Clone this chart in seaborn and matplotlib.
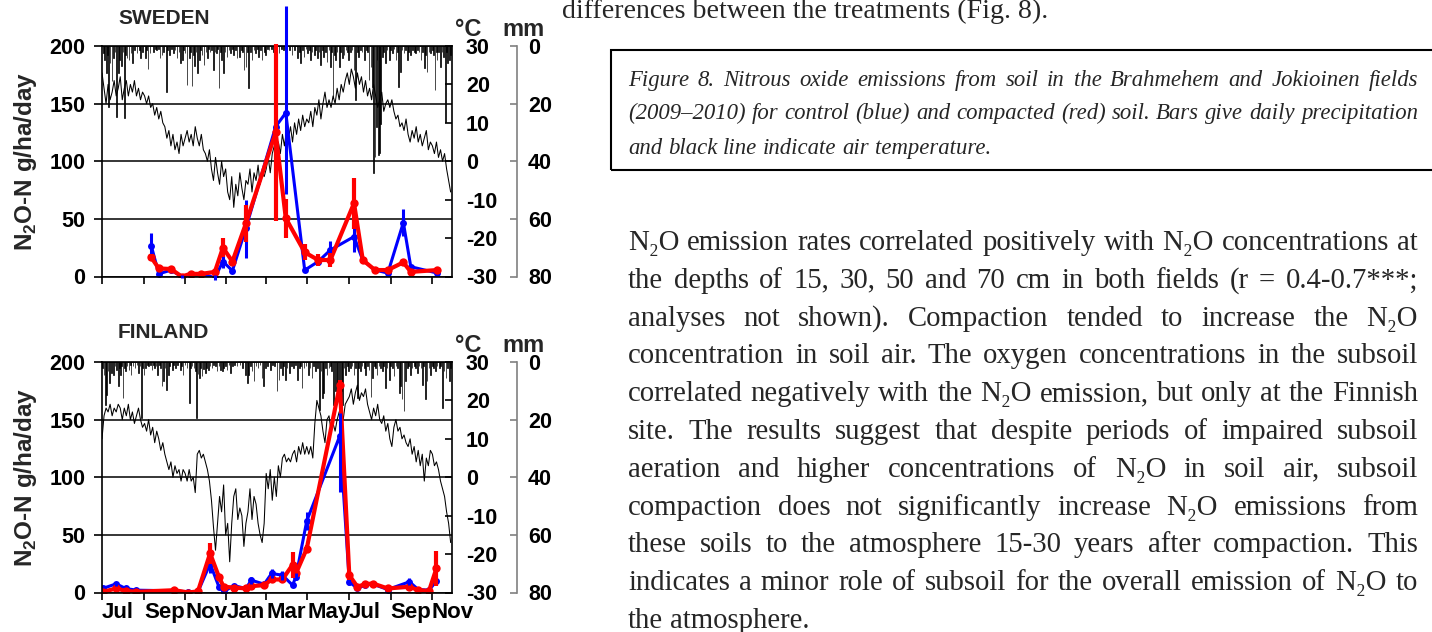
import numpy as np
import pandas as pd
import matplotlib
matplotlib.use("Agg")
import matplotlib.pyplot as plt
import seaborn as sns
from matplotlib.patches import Rectangle

sns.set_theme(style="ticks")
plt.rcParams["font.family"] = ["Liberation Sans", "DejaVu Sans"]
plt.rcParams["mathtext.fontset"] = "custom"
plt.rcParams["mathtext.rm"] = "Liberation Sans"
plt.rcParams["mathtext.bf"] = "Liberation Sans:bold"

# ---------------------------------------------------------------- data
START = "2009-07-01"
END = "2010-12-01"
month_ticks = ["2009-07-01", "2009-09-01", "2009-11-01", "2010-01-01", "2010-03-01",
               "2010-05-01", "2010-07-01", "2010-09-01", "2010-11-01"]
month_labels = ["Jul", "Sep", "Nov", "Jan", "Mar", "May", "Jul", "Sep", "Nov"]

# Sweden (Brahmehem) N2O-N, g/ha/day
swe_dates = ["2009-09-12", "2009-09-23", "2009-10-11", "2009-10-27", "2009-11-09", "2009-11-25",
             "2009-12-15", "2009-12-27", "2010-01-10", "2010-01-30", "2010-03-15", "2010-03-30",
             "2010-04-27", "2010-05-17", "2010-06-04", "2010-07-09", "2010-07-22", "2010-08-09",
             "2010-08-28", "2010-09-20", "2010-10-01", "2010-11-09"]
swe_control = [26.5, 2.3, 5.5, 0.0, 1.5, 2.3, -1.0, 13, 5, 42, 130, 142,
               5.5, 13, 23, 34.6, 14, 5.6, 3, 46.8, 8.5, 3]
swe_control_err_lo = [11, 0, 0, 1, 0, 0, 2, 6, 2, 26, 0, 70, 0, 0, 8, 13, 0, 0, 0, 12, 0, 0]
swe_control_err_hi = [11, 0, 0, 1, 0, 0, 2, 6, 2, 24, 0, 93, 0, 0, 8, 9, 0, 0, 0, 12, 0, 0]
swe_compacted = [16.5, 7, 6.5, 0, 2.3, 2.3, 4, 25, 13, 46, 125, 50.6,
                 21, 14.3, 14.3, 63.6, 14.3, 5.6, 5.6, 12.3, 4, 5.6]
swe_compacted_err = [3, 0, 0, 0, 0, 0, 0, 8, 3, 16, 77, 17, 7, 5, 6, 22, 0, 0, 0, 3, 0, 2]

# Finland (Jokioinen) N2O-N, g/ha/day
fin_dates = ["2009-07-02", "2009-07-22", "2009-08-05", "2009-08-21", "2009-10-16", "2009-11-06",
             "2009-11-20", "2009-12-08", "2009-12-21", "2009-12-28", "2010-01-12", "2010-01-30",
             "2010-02-07", "2010-02-26", "2010-03-09", "2010-03-25", "2010-04-09", "2010-04-14",
             "2010-04-30", "2010-06-18", "2010-07-02", "2010-07-14", "2010-07-25", "2010-08-06",
             "2010-08-28", "2010-09-29", "2010-10-12", "2010-10-28", "2010-11-08"]
fin_control = [3.5, 7.5, 3.5, 2, 1.5, 0.5, 0.6, 25, 5, 0.6, 6, 3.5, 10.7, 7.2, 16.5, 15, 6.4,
               13.6, 62, 136, 9.3, 3.5, 6.4, 7.2, 2.6, 9.3, 2.6, 2, 10]
fin_control_err_lo = [0, 2, 0, 0, 0, 0, 0, 8, 0, 0, 0, 0, 3, 0, 4, 4, 0, 3, 8, 49,
                      3, 0, 0, 0, 0, 3, 0, 0, 3]
fin_control_err_hi = [0, 2, 0, 0, 0, 0, 0, 17, 0, 0, 0, 0, 3, 0, 4, 4, 0, 3, 8, 20,
                      3, 0, 0, 0, 0, 3, 0, 0, 3]
fin_compacted = [0.5, 3.5, 1.4, 0.6, 2, 0, 1, 34, 13.6, 5, 4.3, 3.5, 5.5, 6.4, 11.3, 11.3, 24,
                 16.5, 38, 180, 15, 5, 7.2, 7.8, 3.5, 5, 2, 1.4, 21]
fin_compacted_err = [0, 0, 0, 0, 0, 0, 0, 9, 0, 0, 0, 0, 0, 0, 0, 0, 11, 0, 3, 4,
                     4, 0, 0, 0, 0, 0, 0, 0, 15]

# Air temperature (degC), read every 3rd day from 1 Jul 2009
swe_temp = [23, 19, 15, 20, 16, 18, 21, 17, 19, 22, 16,
            19, 21, 17, 20, 18, 21, 17, 19, 16, 18,
            17, 15, 17, 14, 15, 12, 14, 11, 13, 10,
            9, 6, 8, 4, 7, 3, 5, 2, 7, 4,
            6, 8, 5, 7, 4, 9, 6, 4, 7, 3,
            2, 0, 3, -2, -5, 1, -3, -6, 0, -4,
            -2, -8, -10, -4, -12, -6, -9, -3, -7, -10, -5,
            -6, -2, -8, -3, -5, -1, -6, -3, -4,
            -2, 1, -3, 2, 4, 0, 5, 2, 7, 4, 8,
            6, 9, 5, 10, 7, 11, 8, 12, 9, 11,
            10, 13, 9, 14, 12, 16, 11, 15, 18, 14,
            16, 14, 17, 15, 19, 16, 20, 18, 21, 23,
            20, 24, 22, 19, 23, 20, 22, 18, 21, 17,
            19, 16, 20, 17, 14, 16, 18, 13, 15, 16,
            14, 16, 13, 11, 12, 9, 10, 8, 11, 7, 5,
            8, 6, 9, 5, 7, 4, 6, 8, 3, 5,
            4, 2, 5, 1, 3, 0, 2, -2, -5, -8]
fin_temp = [10, 16, 18, 17, 19, 16, 18, 17, 19, 18, 15,
            18, 16, 19, 15, 17, 14, 16, 18, 15, 13,
            14, 12, 15, 11, 13, 9, 12, 10, 7, 9,
            6, 4, 2, 4, 0, 3, 1, 2, -1, 2,
            1, -1, 2, -1, 0, -4, 6, 7, 5, 6,
            4, 2, -1, -6, -13, -19, -12, -5, -9, -2,
            -15, -12, -22, -12, -5, -3, -11, -8, -10, -18, -12,
            -9, -3, -11, -5, -7, -12, -15, -17, -12,
            1, -3, 2, -6, 0, -5, 3, 0, 5, 6, 4,
            5, 4, 6, 7, 4, 8, 6, 9, 6, 8,
            6, 8, 5, 14, 20, 18, 16, 12, 9, 15,
            16, 12, 14, 12, 15, 17, 18, 15, 19, 20,
            21, 23, 19, 22, 24, 20, 22, 21, 23, 19,
            17, 15, 18, 16, 19, 15, 14, 16, 12, 14,
            10, 8, 13, 15, 12, 13, 10, 11, 9, 8, 10,
            6, 8, 4, 7, 3, 6, -1, 5, 3, 7,
            6, 3, 4, 2, -1, -3, -5, -9, -12, -17]

# Daily precipitation (mm); day = days since 1 Jul 2009
swe_rain_day = [2, 4, 7, 8, 10, 12, 15, 17, 19, 21, 24, 26, 29, 31, 33, 35, 37, 40, 43, 45, 48, 52,
                55, 57, 60, 64, 66, 68, 71, 76, 79, 81, 84, 86, 89, 91, 95, 97, 100, 103, 106,
                108, 111, 114, 116, 119, 121, 123, 126, 129, 131, 133, 135, 137, 139, 141, 144,
                146, 148, 151, 154, 156, 158, 160, 162, 165, 167, 169, 171, 173, 175, 177, 180,
                182, 185, 188, 190, 193, 195, 198, 200, 203, 206, 208, 210, 213, 215, 217, 220,
                222, 225, 227, 230, 232, 235, 237, 240, 242, 245, 247, 251, 254, 258, 262, 266,
                269, 273, 277, 281, 285, 289, 292, 294, 297, 299, 302, 304, 307, 309, 311, 314,
                316, 319, 321, 323, 326, 328, 331, 333, 336, 338, 340, 342, 344, 346, 348, 351,
                353, 356, 358, 361, 363, 365, 368, 370, 373, 375, 378, 380, 383, 385, 388, 391,
                393, 395, 398, 400, 402, 404, 406, 407, 409, 411, 412, 415, 417, 420, 422, 425,
                427, 430, 432, 435, 437, 439, 442, 444, 447, 449, 452, 454, 457, 460, 462, 464,
                467, 469, 472, 474, 477, 479, 481, 484, 486, 489, 491, 493, 495, 496, 498, 501,
                503, 505, 508, 510, 511, 514, 516]
swe_rain_mm = [2.5, 5, 9.5, 3, 21, 6, 12, 4, 2, 24.5, 9.5, 5, 7, 2, 25, 3, 4, 5, 2.5, 6, 1.5, 2.5,
               1.5, 4, 2, 4, 1.5, 8, 2.5, 2, 1, 1.5, 1, 4, 3, 2, 16, 1.5, 3, 1, 2.5,
               1.5, 4, 2, 6, 5, 1.5, 2.5, 13.5, 4, 2, 14, 3, 7, 2, 9.5, 5,
               1.5, 3, 6.5, 2, 4, 1, 2, 1.5, 8.3, 2, 2.5, 1, 14.7, 2, 5, 9.5,
               2, 3.7, 1.5, 2.5, 1, 3, 1.5, 4.3, 3.7, 1.5, 2, 8.3, 7.2, 2, 14.7, 2,
               4.9, 1.5, 2.5, 1, 3.7, 1.5, 4.9, 2, 3.1, 1, 1.4, 1, 2, 1, 2.5, 1,
               1.4, 1, 1.5, 3.1, 1.5, 4.3, 2, 6, 1.5, 3.7, 1, 2.5, 1.5, 4.9, 2, 3.1,
               1.5, 4.3, 2, 6.6, 1.5, 3.7, 2, 5.4, 1.5, 7.2, 2, 18.2, 3, 4.9, 2, 7.2,
               2, 4.3, 3, 1.5, 2, 4.9, 2, 1.5, 8.3, 18.8, 2, 3.7, 1.5, 2, 4.9, 1.5,
               2, 11.8, 7.2, 14.1, 44.2, 38.4, 28, 5, 37.8, 37.3, 26.9, 3.7, 2, 6, 1.5, 4.9,
               1.5, 2.5, 1, 4.9, 2, 14.1, 8.9, 1.5, 2.5, 1.5, 4.9, 2, 3.1, 1.5, 2, 2.5,
               1.5, 2, 4.9, 2, 7.8, 3, 8.9, 2, 2.5, 1.5, 3, 15.3, 2, 4.9, 2, 7.2,
               2, 3.7, 26.3, 2, 6, 4.9, 3.1]
fin_rain_day = [1, 3, 5, 7, 9, 11, 14, 17, 19, 21, 24, 26, 27, 29, 31, 33, 35, 37, 40, 42, 43, 46,
                49, 52, 54, 56, 58, 60, 62, 64, 67, 69, 72, 74, 76, 78, 80, 82, 85, 87, 89, 91,
                93, 95, 98, 100, 104, 106, 109, 112, 116, 118, 120, 123, 126, 129, 131, 133, 136,
                138, 140, 142, 144, 146, 148, 150, 153, 155, 158, 160, 163, 165, 168, 170, 173,
                175, 178, 180, 183, 185, 188, 190, 193, 196, 200, 204, 208, 212, 215, 217, 220,
                222, 225, 228, 231, 234, 237, 239, 242, 245, 249, 252, 255, 259, 262, 264, 267,
                269, 272, 274, 277, 280, 283, 286, 289, 292, 294, 296, 299, 302, 306, 308, 311,
                313, 316, 319, 322, 324, 326, 328, 331, 333, 336, 338, 340, 343, 346, 348, 349,
                351, 354, 356, 358, 360, 363, 365, 368, 370, 373, 375, 378, 380, 383, 385, 388,
                390, 393, 395, 398, 400, 403, 405, 407, 410, 412, 415, 417, 420, 422, 425, 427,
                430, 432, 435, 437, 440, 442, 444, 447, 449, 452, 454, 457, 459, 462, 464, 467,
                469, 472, 474, 476, 479, 481, 484, 486, 489, 491, 494, 496, 499, 501, 504, 506,
                509, 511, 514, 516]
fin_rain_mm = [2, 4.4, 15, 11.3, 3, 7.3, 3.8, 4.4, 1.5, 2.7, 8.5, 2, 4.4, 1.5, 12.5, 2, 3.2, 1.5,
               2.7, 1, 4.4, 1.5, 2.1, 1, 3.8, 1.5, 19.4, 2, 4.4, 2.1, 1, 1.5, 1, 2.7, 1, 2.1,
               1.5, 4.4, 1, 2, 8.5, 6.7, 2, 9.6, 4.4, 1.5, 2.7, 1, 2.1, 1, 2.7, 1.5, 4.4, 1,
               2.1, 14.3, 2, 1.5, 2, 3, 19.4, 4, 5.5, 2, 5, 2.5, 3.8, 2, 2.7, 1.5, 2.1, 1,
               1.5, 3, 1.5, 2.7, 3.2, 2.1, 1.5, 2.7, 1, 3.8, 1.5, 1, 1.5, 1, 2, 4.4, 7.3,
               4.4, 1.5, 3.2, 6.7, 1.5, 2, 1, 5.5, 8.4, 2, 1.5, 2.7, 1, 1.5, 10.2, 6.1, 2,
               4.4, 1.5, 6.1, 2, 3.8, 1.5, 2, 1, 6.1, 2, 1.5, 9, 2, 1.5, 4.4, 2, 5.5,
               1.5, 3.2, 2, 16.6, 3, 12.5, 10.8, 2, 4.4, 2, 1.5, 3, 14.8, 10.2, 13.6, 13,
               6.7, 10.2, 14.8, 2, 4.4, 1.5, 3.2, 2, 1.5, 4.4, 2, 12.5, 2, 3.2, 1.5, 2,
               4.4, 1.5, 2.7, 12, 5.5, 1.5, 2, 4.4, 1.5, 2, 3.2, 1.5, 9, 2, 6.1, 1.5,
               2, 5, 1.5, 2, 10.8, 8.4, 13, 17.1, 6.7, 2, 1.5, 4.4, 2, 1.5, 2, 3.8,
               1.5, 2, 7.9, 1.5, 13, 6.7, 2, 4.4, 1.5, 2, 3.2, 1.5, 2, 1.5, 16, 3,
               5.5, 2, 6.7, 2]

# ---------------------------------------------------------------- text
above_line = "differences between the treatments (Fig. 8)."
caption_lines = [
    "Figure 8. Nitrous oxide emissions from soil in the Brahmehem and Jokioinen fields",
    "(2009\u20132010) for control (blue) and compacted (red) soil. Bars give daily precipitation",
    "and black line indicate air temperature.",
]
body_lines = [
    "N\u2082O emission rates correlated positively with N\u2082O concentrations at",
    "the depths of 15, 30, 50 and 70 cm in both fields (r = 0.4-0.7***;",
    "analyses not shown). Compaction tended to increase the N\u2082O",
    "concentration in soil air. The oxygen concentrations in the subsoil",
    "correlated negatively with the N\u2082O emission, but only at the Finnish",
    "site. The results suggest that despite periods of impaired subsoil",
    "aeration and higher concentrations of N\u2082O in soil air, subsoil",
    "compaction does not significantly increase N\u2082O emissions from",
    "these soils to the atmosphere 15-30 years after compaction. This",
    "indicates a minor role of subsoil for the overall emission of N\u2082O to",
    "the atmosphere.",
]

# ---------------------------------------------------------------- figure
W, H = 1432, 632
fig = plt.figure(figsize=(W / 100, H / 100), dpi=100)
fig.patch.set_facecolor("white")
BLUE = "#0000ff"
RED = "#ff0000"
TICK_FS = 15.5


def px_rect(left, top, right, bottom):
    return [left / W, 1 - bottom / H, (right - left) / W, (bottom - top) / H]


def draw_panel(rect, title, title_y, unit_y, temp, rain_day, rain_mm, dates,
               ctrl, ctrl_lo, ctrl_hi, comp, comp_err, show_months):
    ax = fig.add_axes(rect)
    ax_t = ax.twinx()
    ax_p = ax.twinx()
    ax_t.set_zorder(1)
    ax_p.set_zorder(2)
    ax.set_zorder(3)
    ax.patch.set_visible(False)
    ax_p.patch.set_visible(False)
    # spine positions first (moving a spine resets its ticks)
    ax_p.spines["right"].set_position(("outward", 46.8))

    start = pd.Timestamp(START)
    # temperature line
    tdates = pd.date_range(START, periods=len(temp), freq="3D")
    sns.lineplot(x=tdates, y=temp, ax=ax_t, color="black", lw=0.75)
    # precipitation bars hanging from the top
    rdates = start + pd.to_timedelta(rain_day, unit="D")
    ax_p.bar(rdates, rain_mm, width=1.0, color="black", edgecolor="black", linewidth=0.5)

    # N2O lines
    d = pd.to_datetime(dates)
    df_c = pd.DataFrame({"date": d, "n2o": ctrl})
    df_r = pd.DataFrame({"date": d, "n2o": comp})
    sns.lineplot(data=df_c, x="date", y="n2o", ax=ax, color=BLUE, lw=2.2,
                 marker="o", markersize=5, markeredgewidth=0)
    cv = np.array(ctrl, float)
    ax.vlines(d, cv - np.array(ctrl_lo), cv + np.array(ctrl_hi), color=BLUE, lw=2.2,
              clip_on=False, zorder=3)
    sns.lineplot(data=df_r, x="date", y="n2o", ax=ax, color=RED, lw=3.0,
                 marker="o", markersize=6, markeredgewidth=0)
    rv = np.array(comp, float)
    ce = np.array(comp_err)
    ax.vlines(d, rv - ce, rv + ce, color=RED, lw=3.0, clip_on=False, zorder=4)

    # scales
    ax.set_xlim(pd.Timestamp(START), pd.Timestamp(END))
    ax.set_ylim(0, 200)
    ax_t.set_ylim(-30, 30)
    ax_p.set_ylim(80, 0)
    for a in (ax, ax_t, ax_p):
        a.set_xlabel("")
        a.set_ylabel("")

    # main axis
    ax.set_yticks([0, 50, 100, 150, 200])
    ax.set_yticklabels(["0", "50", "100", "150", "200"], fontsize=TICK_FS, fontweight="bold")
    ax.tick_params(axis="y", direction="out", length=6, width=1.2, pad=6, colors="black")
    ax.set_xticks(pd.to_datetime(month_ticks))
    if show_months:
        ax.set_xticklabels(month_labels, fontsize=16, fontweight="bold", ha="left")
    else:
        ax.set_xticklabels([""] * len(month_ticks))
    ax.tick_params(axis="x", direction="out", length=5, width=1.2, pad=2, colors="black")
    ax.grid(axis="y", color="black", lw=1.1)
    ax.grid(axis="x", visible=False)
    for s in ("left", "bottom", "top"):
        ax.spines[s].set_visible(True)
        ax.spines[s].set_color("black")
        ax.spines[s].set_linewidth(1.2)
    ax.spines["right"].set_visible(False)

    # temperature axis (right edge of plot)
    ax_t.set_yticks(range(-30, 31, 10))
    ax_t.set_yticklabels([str(v) for v in range(-30, 31, 10)], fontsize=TICK_FS,
                         fontweight="bold")
    ax_t.tick_params(axis="y", direction="in", length=5, width=1.2, pad=10,
                     right=True, left=False, labelright=True, labelleft=False, colors="black")
    for s in ("left", "bottom", "top"):
        ax_t.spines[s].set_visible(False)
    ax_t.spines["right"].set_visible(True)
    ax_t.spines["right"].set_color("black")
    ax_t.spines["right"].set_linewidth(1.2)

    # precipitation axis (offset to the right)
    ax_p.set_yticks([0, 20, 40, 60, 80])
    ax_p.set_yticklabels(["0", "20", "40", "60", "80"], fontsize=TICK_FS, fontweight="bold")
    ax_p.tick_params(axis="y", direction="in", length=5, width=1.2, pad=8,
                     right=True, left=False, labelright=True, labelleft=False,
                     color="#808080", labelcolor="black")
    for s in ("left", "bottom", "top"):
        ax_p.spines[s].set_visible(False)
    ax_p.spines["right"].set_visible(True)
    ax_p.spines["right"].set_color("#808080")
    ax_p.spines["right"].set_linewidth(1.2)

    ax.set_ylabel("N$_{\\mathbf{2}}$O-N g/ha/day", fontsize=17.5, fontweight="bold")
    ax.yaxis.set_label_coords(-0.18, 0.5)

    fig.text(118 / W, 1 - title_y / H, title, fontsize=15, fontweight="bold",
             ha="left", va="center")
    fig.text(468 / W, 1 - unit_y / H, "\u00b0C", fontsize=17, fontweight="bold",
             ha="center", va="center")
    fig.text(524 / W, 1 - unit_y / H, "mm", fontsize=17, fontweight="bold",
             ha="center", va="center")
    return ax


draw_panel(px_rect(102, 46, 452, 276.5), "SWEDEN", 18, 29, swe_temp, swe_rain_day, swe_rain_mm,
           swe_dates, swe_control, swe_control_err_lo, swe_control_err_hi,
           swe_compacted, swe_compacted_err, False)
draw_panel(px_rect(102, 362, 452, 592.5), "FINLAND", 333, 345, fin_temp, fin_rain_day, fin_rain_mm,
           fin_dates, fin_control, fin_control_err_lo, fin_control_err_hi,
           fin_compacted, fin_compacted_err, True)

# ---------------------------------------------------------------- page text
SERIF = ["Liberation Serif", "DejaVu Serif"]
renderer = fig.canvas.get_renderer()


def text_width(s, size, style):
    t = fig.text(0, 0, s, fontsize=size, family=SERIF, style=style, fontweight="normal")
    w = t.get_window_extent(renderer).width
    t.remove()
    return w


def natural_width(line, size, style):
    words = line.split(" ")
    sp = text_width("x x", size, style) - text_width("xx", size, style)
    return sum(text_width(w, size, style) for w in words) + sp * (len(words) - 1)


def justified_block(lines, x0, x1, baselines, style):
    base = 20.0
    nat = max(natural_width(l, base, style) for l in lines[:-1])
    size = base * (x1 - x0) / nat * 0.995
    sp = text_width("x x", size, style) - text_width("xx", size, style)
    for i, (line, yb) in enumerate(zip(lines, baselines)):
        words = line.split(" ")
        widths = [text_width(w, size, style) for w in words]
        if i == len(lines) - 1:
            gap = sp
        else:
            gap = (x1 - x0 - sum(widths)) / (len(words) - 1)
        x = x0
        for w, wd in zip(words, widths):
            fig.text(x / W, 1 - yb / H, w, fontsize=size, family=SERIF, style=style,
                     fontweight="normal", ha="left", va="baseline")
            x += wd + gap
    return size


body_size = justified_block(body_lines, 628, 1418, [250 + 37.8 * i for i in range(len(body_lines))],
                            "normal")
justified_block(caption_lines, 628, 1418, [86, 119, 154], "italic")
fig.text(562 / W, 1 - 18 / H, above_line, fontsize=body_size * 0.97, family=SERIF,
         fontweight="normal", ha="left", va="baseline")
fig.patches.append(Rectangle((611 / W, 1 - 170 / H), (1445 - 611) / W, 120 / H,
                             transform=fig.transFigure, fill=False, ec="black", lw=1.5,
                             clip_on=False))

fig.savefig("out.png", dpi=100)
